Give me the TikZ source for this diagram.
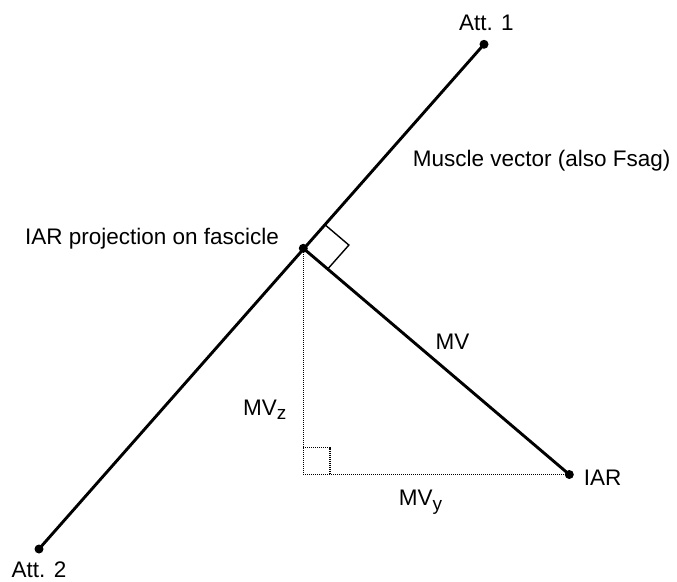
\documentclass[tikz,border=0pt]{standalone}
\usepackage{fontspec}
\setmainfont{Liberation Sans}
\usetikzlibrary{calc}
\begin{document}
\begin{tikzpicture}[x=1pt,y=-1pt,
  lbl/.style={inner sep=0pt,anchor=base,font=\fontsize{22.5}{26}\selectfont},
  thick line/.style={line width=2.9pt},
  thin line/.style={line width=1.4pt},
  dotline/.style={line width=1.4pt,dash pattern=on 1.1pt off 0.9pt},
  dotpt/.style={circle,fill=black,inner sep=0pt,minimum size=9pt}]
\useasboundingbox (0,0) rectangle (677,581);
% points
\node[dotpt] (a1) at (484,44.3) {};
\node[dotpt] (a2) at (39,549) {};
\node[dotpt] (p) at (303.3,248.3) {};
\node[dotpt] (iar) at (569.3,474.5) {};
\coordinate (c) at (303.3,474.5);
% main lines
\draw[thick line] (a1.center) -- (a2.center);
\draw[thick line] (p.center) -- (iar.center);
% right angle at projection
\coordinate (u) at ($(p.center)!32pt!(a1.center)$);
\coordinate (v) at ($(p.center)!32pt!(iar.center)$);
\draw[thin line] (u) -- ($(u)+(v)-(p.center)$) -- (v);
% dotted legs
\draw[dotline] (p.center) -- (c) -- (iar.center);
\draw[dotline] (303.3,447.5) -- (330,447.5) -- (330,474.5);
% labels
\node[lbl] (t1) at (486.3,30) {Att. 1};
\node[lbl] (t2) at (39,577.5) {Att. 2};
\node[lbl] (tp) at (152,244) {IAR projection on fascicle};
\node[lbl] (tm) at (541.7,166.7) {Muscle vector (also Fsag)};
\node[lbl] (tmv) at (452.5,349.3) {MV};
\node[lbl] (tmz) at (264.7,415) {MV\raisebox{-0.22em}{\fontsize{19}{20}\selectfont z}};
\node[lbl] (tmy) at (420.5,505.7) {MV\raisebox{-0.22em}{\fontsize{19}{20}\selectfont y}};
\node[lbl] (ti) at (602.5,485) {IAR};
\end{tikzpicture}
\end{document}
